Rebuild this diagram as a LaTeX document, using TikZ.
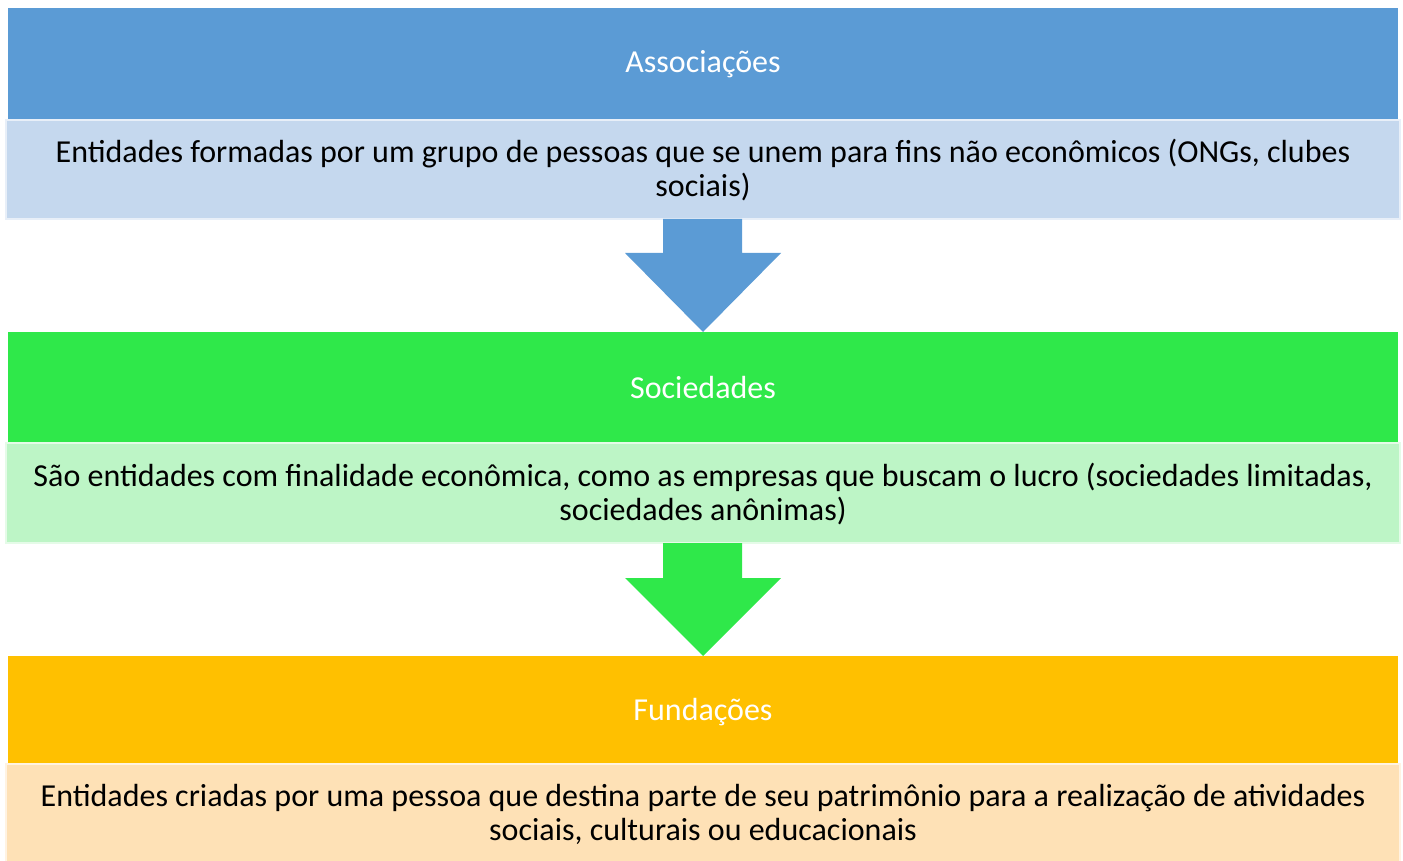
\documentclass[tikz,border=0pt]{standalone}
\usepackage{fontspec}
\setmainfont{Carlito}
\definecolor{hblue}{HTML}{5B9BD5}
\definecolor{lblue}{HTML}{C5D8EE}
\definecolor{hgreen}{HTML}{2FE84A}
\definecolor{lgreen}{HTML}{BDF5C6}
\definecolor{horange}{HTML}{FFC000}
\definecolor{lorange}{HTML}{FEE1B6}
\begin{document}
\begin{tikzpicture}[x=1pt,y=-1pt,
  hdr/.style={fill=#1, draw=none, inner sep=0pt},
  bodybox/.style={fill=#1, draw=white!60!#1, line width=2pt, inner sep=0pt},
  htext/.style={text=white, font=\fontsize{32}{34}\selectfont},
  btext/.style={text=black, font=\fontsize{32}{34}\selectfont, align=center},
  downarrow/.style={fill=#1, draw=none}
]
\useasboundingbox (0,0) rectangle (1403,861);
% Block 1
\path[hdr=hblue] (8,8) rectangle (1398,120);
\node[htext] (h1) at (703,64) {Associações};
\path[bodybox=lblue] (6,120) rectangle (1400,219);
\node[btext] (b1) at (703,170) {Entidades formadas por um grupo de pessoas que se unem para fins não econômicos (ONGs, clubes\\sociais)};
% Arrow 1
\path[downarrow=hblue] (663,219) -- (742,219) -- (742,253) -- (781,253) -- (703,332) -- (625,253) -- (663,253) -- cycle;
% Block 2
\path[hdr=hgreen] (8,332) rectangle (1398,443);
\node[htext] (h2) at (703,388) {Sociedades};
\path[bodybox=lgreen] (6,443) rectangle (1400,543);
\node[btext] (b2) at (703,494) {São entidades com finalidade econômica, como as empresas que buscam o lucro (sociedades limitadas,\\sociedades anônimas)};
% Arrow 2
\path[downarrow=hgreen] (663,543) -- (742,543) -- (742,578) -- (781,578) -- (703,656) -- (625,578) -- (663,578) -- cycle;
% Block 3
\path[hdr=horange] (8,656) rectangle (1398,764);
\node[htext] (h3) at (703,712) {Fundações};
\path[bodybox=lorange] (6,764) rectangle (1400,866);
\node[btext] (b3) at (703,814) {Entidades criadas por uma pessoa que destina parte de seu patrimônio para a realização de atividades\\sociais, culturais ou educacionais};
\end{tikzpicture}
\end{document}
